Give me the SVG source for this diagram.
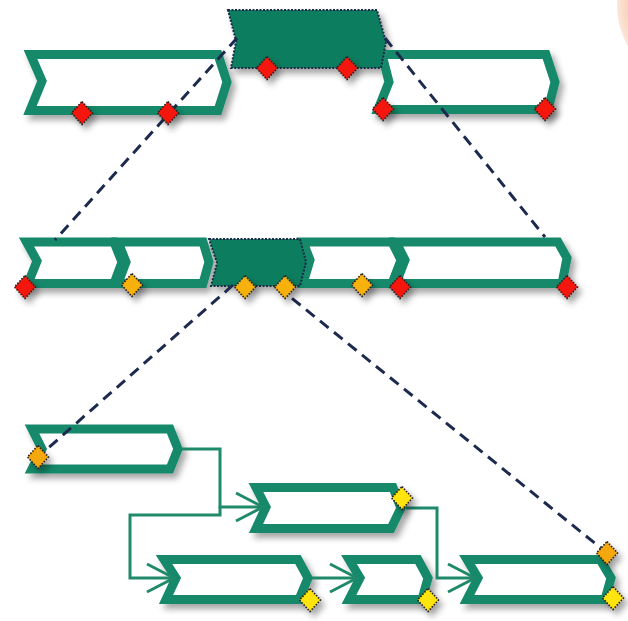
<svg xmlns="http://www.w3.org/2000/svg" width="628" height="621" viewBox="0 0 628 621">
<style>
.box{fill:#fff;stroke:#15896a;stroke-width:9;stroke-linejoin:miter}
.dark{fill:#0d7d5e;stroke:#1b2b45;stroke-width:2;stroke-dasharray:2 1.5}
.dash{fill:none;stroke:#1c2a4e;stroke-width:3;stroke-dasharray:11 7}
.link{fill:none;stroke:#1f8a6a;stroke-width:3}
.dia{stroke:#2b2020;stroke-width:1.6;stroke-dasharray:1.6 1.4}
.red{fill:#f5180c}.amber{fill:#f6b10f}.orange{fill:#f5a80c}.yellow{fill:#ffe40a}
</style>
<defs>
<filter id="sh" x="-10%" y="-20%" width="130%" height="160%">
<feDropShadow dx="4" dy="5" stdDeviation="3" flood-color="#000" flood-opacity="0.35"/>
</filter>
<path id="d" d="M0,-11.5 L10.5,0 L0,11.5 L-10.5,0Z"/>
<marker id="arr" markerUnits="userSpaceOnUse" markerWidth="40" markerHeight="40" refX="0" refY="0" orient="auto" viewBox="-32 -20 40 40" overflow="visible">
<path d="M-27,-14 L0,0 L-27,14" fill="none" stroke="#1f8a6a" stroke-width="3"/>
</marker>
<radialGradient id="peach" cx="0.5" cy="0.5" r="0.5">
<stop offset="0.85" stop-color="#f7c8ab"/>
<stop offset="1" stop-color="#fbe2d3"/>
</radialGradient>
</defs>
<rect width="628" height="621" fill="#fff"/>
<circle cx="700" cy="5" r="83" fill="url(#peach)" opacity="0.85"/>

<g id="nodes" filter="url(#sh)">
<g id="top-left"><polygon class="box" points="30.5,54.5 218,54.5 227,82 218,110.5 30,110.5 42,81"/></g>
<g id="top-right"><polygon class="box" points="382,54.5 546,54.5 555,82 548,109.5 378,109.5 389,82"/></g>
<g id="top-center"><polygon class="dark" points="228,10 377,10 386,42 381,68 231,68 236,41"/></g>

<g id="mid-1"><polygon class="box" points="26.5,242 114,242 122,262 114,283.5 28,283.5 37,261"/></g>
<g id="mid-2"><polygon class="box" points="118,242 203,242 209,262 203,283.5 118,283.5 126,262"/></g>
<g id="mid-4"><polygon class="box" points="303,242 392,242 401,260 392,283.5 303,283.5 310,260"/></g>
<g id="mid-5"><polygon class="box" points="396,242 558,242 567,258 562,283.5 396,283.5 405,260"/></g>
<g id="mid-3"><polygon class="dark" points="209,239 300,239 306,262 300,286 211,286 217,263"/></g>

<g id="bot-1"><polygon class="box" points="32,429 170,429 178,449 170,469 32,469 42,449"/></g>
<g id="bot-2"><polygon class="box" points="256,487.5 393,487.5 401,508 391,528.5 256,528.5 266,507"/></g>
<g id="bot-3"><polygon class="box" points="164,559.5 298,559.5 308,578 299,599.5 166,599.5 176,578"/></g>
<g id="bot-4"><polygon class="box" points="349,559.5 418,559.5 428,578 422,599.5 349,599.5 360,578"/></g>
<g id="bot-5"><polygon class="box" points="467,559.5 600,559.5 611,578 605,599.5 467,599.5 478,578"/></g>
</g>

<g id="connectors">
<line class="dash" x1="237" y1="38" x2="55" y2="240"/>
<line class="dash" x1="385" y1="38" x2="545" y2="237"/>
<line class="dash" x1="233" y1="285" x2="38" y2="457"/>
<line class="dash" x1="278" y1="287" x2="607" y2="553"/>
<path class="link" d="M182,449 H220 V507 H263" marker-end="url(#arr)"/>
<path class="link" d="M220,507 V515 H130 V578 H174" marker-end="url(#arr)"/>
<path class="link" d="M312,578 H357" marker-end="url(#arr)"/>
<path class="link" d="M406,508 H437 V578 H475" marker-end="url(#arr)"/>
</g>

<g id="points" filter="url(#sh)">
<use href="#d" x="82" y="113" class="dia red"/>
<use href="#d" x="168" y="113" class="dia red"/>
<use href="#d" x="267" y="68" class="dia red"/>
<use href="#d" x="347" y="68" class="dia red"/>
<use href="#d" x="383" y="109" class="dia red"/>
<use href="#d" x="545" y="109" class="dia red"/>

<use href="#d" x="25" y="287" class="dia red"/>
<use href="#d" x="132" y="285" class="dia amber"/>
<use href="#d" x="245" y="287" class="dia amber"/>
<use href="#d" x="285" y="287" class="dia amber"/>
<use href="#d" x="362" y="285" class="dia amber"/>
<use href="#d" x="400" y="287" class="dia red"/>
<use href="#d" x="567" y="287" class="dia red"/>

<use href="#d" x="38" y="457" class="dia orange"/>
<use href="#d" x="402" y="498" class="dia yellow"/>
<use href="#d" x="310" y="600" class="dia yellow"/>
<use href="#d" x="428" y="600" class="dia yellow"/>
<use href="#d" x="607" y="553" class="dia orange"/>
<use href="#d" x="613" y="598" class="dia yellow"/>
</g>
</svg>
